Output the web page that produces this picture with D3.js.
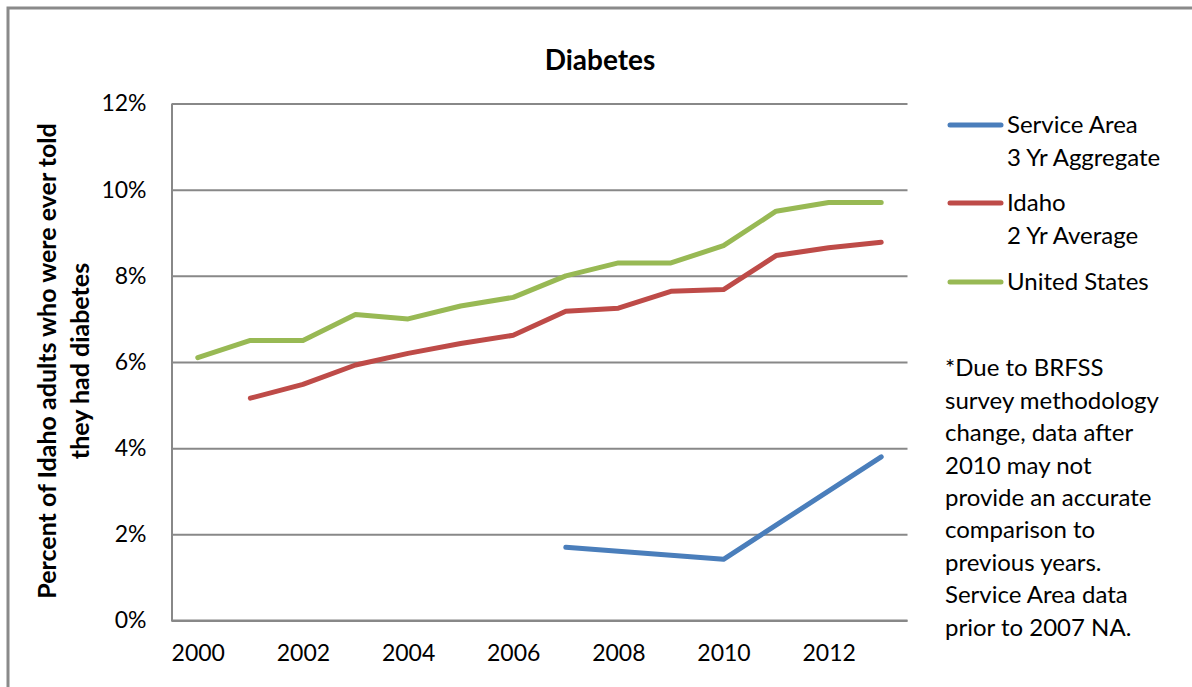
<!DOCTYPE html>
<html>
<head>
<meta charset="utf-8">
<title>Diabetes</title>
<script src="https://d3js.org/d3.v7.min.js"></script>
<style>
  body { margin: 0; background: #fff; }
  svg text { font-family: Lato, "Open Sans", sans-serif; fill: #000; }
  .axis text { font-size: 23px; }
</style>
</head>
<body>
<svg width="1192" height="687"></svg>
<script>
// data
var years = [2000, 2001, 2002, 2003, 2004, 2005, 2006, 2007, 2008, 2009, 2010, 2011, 2012, 2013];
var serviceArea = [null, null, null, null, null, null, null, 1.7, null, null, 1.42, null, null, 3.8];
var idaho = [null, 5.16, 5.48, 5.93, 6.2, 6.43, 6.62, 7.18, 7.25, 7.64, 7.68, 8.47, 8.65, 8.78];
var unitedStates = [6.1, 6.5, 6.5, 7.1, 7.0, 7.3, 7.5, 8.0, 8.3, 8.3, 8.7, 9.5, 9.7, 9.7];
var yTicks = [0, 2, 4, 6, 8, 10, 12];
var xTicks = [2000, 2002, 2004, 2006, 2008, 2010, 2012];
var noteLines = ["*Due to BRFSS", "survey methodology", "change, data after", "2010 may not",
  "provide an accurate", "comparison to", "previous years.", "Service Area data", "prior to 2007 NA."];

var series = [
  { name: ["Service Area", "3 Yr Aggregate"], values: serviceArea, color: "#4A7EBB" },
  { name: ["Idaho", "2 Yr Average"], values: idaho, color: "#BE4B48" },
  { name: ["United States"], values: unitedStates, color: "#98B954" }
];

var svg = d3.select("svg");
var pLeft = 171.5, pRight = 907.5, pTop = 103.5, pBottom = 620.5;

// outer frame (runs off the right and bottom of the picture)
svg.append("rect")
  .attr("x", 8).attr("y", 8).attr("width", 1200).attr("height", 700)
  .attr("fill", "none").attr("stroke", "#8a8a8a").attr("stroke-width", 3);

var x = d3.scalePoint().domain(years).range([pLeft, pRight]).padding(0.5);
var y = d3.scaleLinear().domain([0, 12]).range([pBottom, pTop]);

// gridlines
svg.append("g")
  .attr("transform", "translate(" + pLeft + ",0)")
  .call(d3.axisLeft(y).tickValues(yTicks).tickSize(-(pRight - pLeft)).tickFormat(""))
  .call(function(g) { g.select(".domain").remove(); })
  .selectAll("line").attr("stroke", "#888").attr("stroke-width", 2);

// y axis
svg.append("g")
  .attr("class", "axis")
  .attr("transform", "translate(" + pLeft + ",0)")
  .call(d3.axisLeft(y).tickValues(yTicks).tickSize(0).tickPadding(25).tickFormat(function(d) { return d + "%"; }))
  .call(function(g) { g.select(".domain").attr("stroke", "#888").attr("stroke-width", 2); });

// x axis
svg.append("g")
  .attr("class", "axis")
  .attr("transform", "translate(0," + pBottom + ")")
  .call(d3.axisBottom(x).tickValues(xTicks).tickSize(0).tickPadding(24))
  .call(function(g) { g.select(".domain").attr("stroke", "#888").attr("stroke-width", 2).attr("d", "M" + pLeft + ",0H" + pRight); });

// lines
var line = d3.line()
  .x(function(d) { return x(d.year); })
  .y(function(d) { return y(d.v); });

series.forEach(function(s) {
  var pts = years.map(function(yr, i) { return { year: yr, v: s.values[i] }; })
    .filter(function(d) { return d.v != null; });
  svg.append("path")
    .attr("d", line(pts))
    .attr("fill", "none")
    .attr("stroke", s.color)
    .attr("stroke-width", 5)
    .attr("stroke-linecap", "round")
    .attr("stroke-linejoin", "round");
});

// title
svg.append("text")
  .attr("x", 600).attr("y", 70)
  .attr("text-anchor", "middle")
  .attr("font-size", 28).attr("font-weight", "bold")
  .text("Diabetes");

// y label
var yl = svg.append("text")
  .attr("transform", "translate(0,361) rotate(-90)")
  .attr("text-anchor", "middle")
  .attr("font-size", 25).attr("font-weight", "bold");
yl.append("tspan").attr("x", 0).attr("y", 56).text("Percent of Idaho adults who were ever told");
yl.append("tspan").attr("x", 0).attr("y", 89).text("they had diabetes");

// legend
var legY = [125, 203, 282];
series.forEach(function(s, i) {
  var g = svg.append("g").attr("transform", "translate(0," + legY[i] + ")");
  g.append("line")
    .attr("x1", 950).attr("x2", 1001).attr("y1", 0).attr("y2", 0)
    .attr("stroke", s.color).attr("stroke-width", 5).attr("stroke-linecap", "round");
  s.name.forEach(function(t, j) {
    g.append("text")
      .attr("x", 1007).attr("y", j * 32.5)
      .attr("dy", "0.35em")
      .attr("font-size", 24)
      .text(t);
  });
});

// note
svg.append("g").selectAll("text")
  .data(noteLines)
  .join("text")
  .attr("x", 945)
  .attr("y", function(d, i) { return 368 + i * 32.4; })
  .attr("dy", "0.35em")
  .attr("font-size", 24)
  .text(function(d) { return d; });
</script>
</body>
</html>
